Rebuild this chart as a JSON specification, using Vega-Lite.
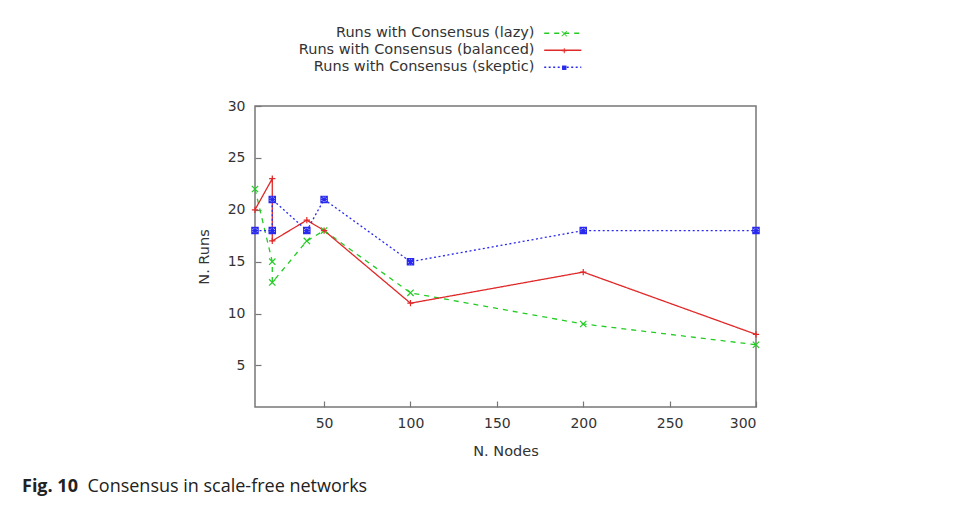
{
  "$schema": "https://vega.github.io/schema/vega-lite/v6.json",
  "width": 501,
  "height": 301,
  "autosize": {"type": "none"},
  "padding": {"left": 255, "top": 106, "right": 197, "bottom": 101},
  "background": "white",
  "config": {
    "font": "DejaVu Sans",
    "view": {"stroke": "#777", "strokeWidth": 1.5},
    "axis": {
      "domain": false,
      "grid": false,
      "tickSize": -6,
      "tickColor": "#777",
      "tickWidth": 1.2,
      "labelFont": "DejaVu Sans",
      "labelFontSize": 14,
      "labelColor": "#333",
      "titleFont": "DejaVu Sans",
      "titleFontSize": 14.5,
      "titleFontWeight": "normal",
      "titleColor": "#333"
    }
  },
  "title": {
    "text": "Fig. 10",
    "subtitle": "\u200b\u00a0\u00a0\u00a0\u00a0\u00a0\u00a0\u00a0\u00a0\u00a0\u00a0\u00a0\u00a0\u00a0\u00a0Consensus in scale-free networks",
    "orient": "bottom",
    "anchor": "start",
    "frame": "group",
    "dx": -233,
    "offset": 20,
    "font": "Open Sans",
    "fontSize": 18,
    "fontWeight": "bold",
    "color": "#222",
    "subtitleFont": "Open Sans",
    "subtitleFontSize": 18,
    "subtitleFontWeight": "normal",
    "subtitleColor": "#222",
    "subtitlePadding": -18
  },
  "data": {
    "values": [
      {"series": "Runs with Consensus (lazy)", "order": 1, "nodes": 10, "runs": 22},
      {"series": "Runs with Consensus (lazy)", "order": 2, "nodes": 20, "runs": 15},
      {"series": "Runs with Consensus (lazy)", "order": 3, "nodes": 20, "runs": 13},
      {"series": "Runs with Consensus (lazy)", "order": 4, "nodes": 40, "runs": 17},
      {"series": "Runs with Consensus (lazy)", "order": 5, "nodes": 50, "runs": 18},
      {"series": "Runs with Consensus (lazy)", "order": 6, "nodes": 100, "runs": 12},
      {"series": "Runs with Consensus (lazy)", "order": 7, "nodes": 200, "runs": 9},
      {"series": "Runs with Consensus (lazy)", "order": 8, "nodes": 300, "runs": 7},
      {"series": "Runs with Consensus (balanced)", "order": 1, "nodes": 10, "runs": 20},
      {"series": "Runs with Consensus (balanced)", "order": 2, "nodes": 20, "runs": 23},
      {"series": "Runs with Consensus (balanced)", "order": 3, "nodes": 20, "runs": 17},
      {"series": "Runs with Consensus (balanced)", "order": 4, "nodes": 40, "runs": 19},
      {"series": "Runs with Consensus (balanced)", "order": 5, "nodes": 50, "runs": 18},
      {"series": "Runs with Consensus (balanced)", "order": 6, "nodes": 100, "runs": 11},
      {"series": "Runs with Consensus (balanced)", "order": 7, "nodes": 200, "runs": 14},
      {"series": "Runs with Consensus (balanced)", "order": 8, "nodes": 300, "runs": 8},
      {"series": "Runs with Consensus (skeptic)", "order": 1, "nodes": 10, "runs": 18},
      {"series": "Runs with Consensus (skeptic)", "order": 2, "nodes": 20, "runs": 18},
      {"series": "Runs with Consensus (skeptic)", "order": 3, "nodes": 20, "runs": 21},
      {"series": "Runs with Consensus (skeptic)", "order": 4, "nodes": 40, "runs": 18},
      {"series": "Runs with Consensus (skeptic)", "order": 5, "nodes": 50, "runs": 21},
      {"series": "Runs with Consensus (skeptic)", "order": 6, "nodes": 100, "runs": 15},
      {"series": "Runs with Consensus (skeptic)", "order": 7, "nodes": 200, "runs": 18},
      {"series": "Runs with Consensus (skeptic)", "order": 8, "nodes": 300, "runs": 18}
    ]
  },
  "encoding": {
    "x": {
      "field": "nodes",
      "type": "quantitative",
      "title": "N. Nodes",
      "scale": {"domain": [10, 300], "nice": false, "zero": false},
      "axis": {"values": [50, 100, 150, 200, 250, 300], "labelPadding": 15, "titlePadding": 14}
    },
    "y": {
      "field": "runs",
      "type": "quantitative",
      "title": "N. Runs",
      "scale": {"domain": [1, 30], "nice": false, "zero": false},
      "axis": {"values": [5, 10, 15, 20, 25, 30], "labelPadding": 16, "titlePadding": 16}
    }
  },
  "layer": [
    {
      "mark": {"type": "line", "strokeWidth": 1.3, "clip": false},
      "encoding": {
        "order": {"field": "order", "type": "quantitative"},
        "color": {
          "field": "series",
          "type": "nominal",
          "scale": {
            "domain": ["Runs with Consensus (lazy)", "Runs with Consensus (balanced)", "Runs with Consensus (skeptic)"],
            "range": ["#22cc22", "#e02828", "#2a2aee"]
          },
          "legend": {
            "orient": "top",
            "direction": "vertical",
            "offset": 32.5,
            "title": null,
            "padding": 0,
            "symbolType": "M-4,0H4",
            "symbolSize": 86,
            "symbolStrokeWidth": 1.3,
            "symbolOffset": 300.5,
            "labelAlign": "right",
            "labelOffset": -35.5,
            "labelFont": "DejaVu Sans",
            "labelFontSize": 14.5,
            "labelColor": "#333",
            "labelLimit": 400,
            "rowPadding": 2,
            "encode": {
              "symbols": {
                "update": {
                  "strokeDash": {"signal": "datum.value === 'Runs with Consensus (lazy)' ? [5, 5] : datum.value === 'Runs with Consensus (skeptic)' ? [2, 2.5] : [1, 0]"}
                }
              }
            }
          }
        },
        "strokeDash": {
          "field": "series",
          "type": "nominal",
          "scale": {
            "domain": ["Runs with Consensus (lazy)", "Runs with Consensus (balanced)", "Runs with Consensus (skeptic)"],
            "range": [[5, 5], [1, 0], [2, 2.5]]
          },
          "legend": {
            "orient": "none",
            "legendX": 302,
            "legendY": -79.5,
            "title": null,
            "padding": 0,
            "symbolSize": 40,
            "symbolStrokeWidth": 0,
            "labelOpacity": 0,
            "labelFontSize": 14.5,
            "labelLimit": 400,
            "rowPadding": 2,
            "encode": {
              "symbols": {
                "update": {
                  "shape": {"signal": "datum.value === 'Runs with Consensus (lazy)' ? 'M-0.694,-0.906L0.906,0.694L0.694,0.906L-0.906,-0.694ZM-0.906,0.694L0.694,-0.906L0.906,-0.694L-0.694,0.906Z' : datum.value === 'Runs with Consensus (skeptic)' ? 'M-0.7,-0.7H0.7V0.7H-0.7Z' : 'M-0.8,-0.15H0.8V0.15H-0.8ZM0.15,-0.8V0.8H-0.15V-0.8Z'"},
                  "fill": {"signal": "datum.value === 'Runs with Consensus (lazy)' ? '#22cc22' : datum.value === 'Runs with Consensus (skeptic)' ? '#2a2aee' : '#e02828'"},
                  "fillOpacity": {"value": 1},
                  "strokeWidth": {"value": 0}
                }
              }
            }
          }
        }
      }
    },
    {
      "transform": [{"filter": {"field": "series", "equal": "Runs with Consensus (lazy)"}}],
      "mark": {"type": "point", "shape": "M-1,-1L1,1M-1,1L1,-1", "filled": false, "color": "#22cc22", "size": 40, "strokeWidth": 1.2, "opacity": 1, "clip": false}
    },
    {
      "transform": [{"filter": {"field": "series", "equal": "Runs with Consensus (balanced)"}}],
      "mark": {"type": "point", "shape": "M-1,0H1M0,-1V1", "filled": false, "color": "#e02828", "size": 40, "strokeWidth": 1.2, "opacity": 1, "clip": false}
    },
    {
      "transform": [{"filter": {"field": "series", "equal": "Runs with Consensus (skeptic)"}}],
      "mark": {"type": "point", "shape": "M-1,-1H1V1H-1ZM-1,0H1M0,-1V1M-1,-1L1,1M-1,1L1,-1", "filled": false, "color": "#2a2aee", "size": 40, "strokeWidth": 1.2, "opacity": 1, "clip": false}
    }
  ]
}
